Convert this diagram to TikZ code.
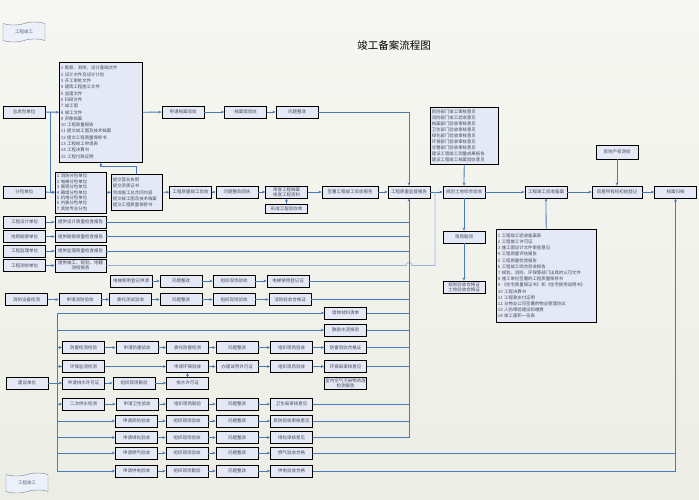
\documentclass[tikz,border=0pt]{standalone}
\usepackage{fontspec}
\newfontfamily\cjk{Noto Sans CJK SC}
\usetikzlibrary{arrows.meta,shapes.symbols,positioning}

\definecolor{bgtop}{RGB}{246,247,242}
\definecolor{bgbot}{RGB}{236,238,229}
\definecolor{boxfill}{RGB}{228,233,245}
\definecolor{lncol}{RGB}{74,122,186}
\definecolor{txtcol}{RGB}{70,72,92}
\definecolor{docfill}{RGB}{236,240,248}
\definecolor{docline}{RGB}{120,130,150}
\definecolor{doctext}{RGB}{90,100,130}

\newcommand\boxfont{\cjk\fontsize{4.5}{5.4}\selectfont}
\newcommand\listfont[1]{\cjk\fontsize{4.4}{#1}\selectfont}

\tikzset{
  box/.style={draw, line width=0.7pt, fill=boxfill, text=txtcol, font=\boxfont,
    minimum width=42pt, minimum height=12pt, inner sep=0.5pt, align=center},
  listbox/.style={draw, line width=0.7pt, fill=boxfill, text=txtcol,
    anchor=north west, inner sep=1.5pt, align=left},
  line/.style={draw=lncol, line width=0.8pt},
  arr/.style={line, -{Stealth[length=3.2pt,width=2.8pt]}},
  docshape/.style={tape, draw=docline, fill=docfill, text=doctext, font=\boxfont,
    minimum width=42pt, minimum height=20pt, inner sep=0pt, tape bend height=3pt}
}

\begin{document}
\begin{tikzpicture}[x=1pt,y=-1pt]
\shade[top color=bgtop, bottom color=bgbot] (0,0) rectangle (699,499);

\node[font=\cjk\fontsize{10.5}{12}\selectfont] (title) at (394,45) {竣工备案流程图};
\node[docshape] (start) at (24,32) {工程竣工};
\node[docshape] (stop) at (27,483) {工程竣工};

% main line
\foreach \name/\x/\y/\txt in {zcb/24/112/总承包单位, sqda/183/112/申请档案验收,
    dagys/245.5/112/档案馆验收, wtzg/297/112/问题整改, fbdw/24.5/192/分包单位,
    zlys/190.5/192/工程质量竣工验收, wtzghz/237/192/问题整改回执,
    jdbg/409/192/工程质量监督报告, ghtd/464/192/规划土地综合验收,
    baj/546/192/工程竣工验收备案, dagd/675.5/192/档案归档, xckc/464/237/现场勘测}
  \node[box] (\name) at (\x,\y) {\txt};
\node[box, minimum width=56pt] (qsbg) at (350,192) {签署工程竣工验收报告};
\node[box, minimum width=50pt] (fwsy) at (617,192) {房屋所有权初始登记};
\node[box, minimum height=14pt] (fdc) at (617,152) {房地产权测绘};
\node[box] (scda) at (286.5,192) {审查工程档案\\核查工程资料};
\node[box, minimum height=9pt] (xcysd) at (286.5,208.5) {形成工程验收单};
\node[box] (hgz) at (464,287) {规划验收合格证\\土地验收合格证};

\node[listbox, font={\listfont{6.3}}, text width=80pt, minimum height=100pt] (zlist) at (59,62)
  {1 勘察、测绘、设计基础文件\\2 设计文件及设计计划\\3 开工审批文件\\4 建筑工程施工文件\\
   5 监理文件\\6 科研文件\\7 竣工图\\8 竣工文件\\9 声像档案\\10 工程质量报告\\
   11 提交竣工图及技术档案\\12 提交工程质量保修书\\13 工程竣工申请表\\14 工程决算书\\
   15 工程付款证明};
\node[listbox, font={\listfont{5.4}}, text width=48pt, minimum height=41pt] (fblist) at (55,171.5)
  {1 消防分包单位\\2 电梯分包单位\\3 景观分包单位\\4 幕墙分包单位\\5 机电分包单位\\
   6 内装分包单位\\7 其他专业分包};
\node[listbox, font={\listfont{6.3}}, text width=48pt, minimum height=36pt] (tjlist) at (111,174)
  {提交营业执照\\提交资质证书\\完成施工总合同内容\\提交竣工图及技术档案\\提交工程质量保修书};
\node[listbox, font={\listfont{5.9}}, text width=65pt, minimum height=57pt] (bmlist) at (430,107)
  {民防部门竣工审核意见\\消防部门竣工验收意见\\档案部门验收审核意见\\卫生部门验收审核意见\\
   绿化部门验收审核意见\\环保部门验收审核意见\\交警部门验收审核意见\\建设工程竣工测量成果报告\\
   建设工程竣工档案验收意见};
\node[listbox, font={\listfont{6.2}}, text width=97pt, minimum height=93pt] (balist) at (496,229)
  {1 工程竣工验收备案表\\2 工程施工许可证\\3 施工图设计文件审查意见\\4 工程质量评估报告\\
   5 工程质量检验报告\\6 工程竣工综合验收报告\\7 规划、消防、环保等部门出具的认可文件\\
   8 施工单位签署的工程质量保修书\\9 《住宅质量保证书》和《住宅使用说明书》\\10 工程决算书\\
   11 工程款支付证明\\12 与物业公司签署的物业管理协议\\13 人防审验建设和缴费\\14 竣工面积一览表};

\draw[arr] (zcb) -- (zlist);
\coordinate (jn) at (50,112);
\draw[arr] (jn) |- (fblist.west);
\foreach \a/\b in {zlist/sqda, sqda/dagys, dagys/wtzg, fbdw/fblist, fblist/tjlist,
    tjlist/zlys, zlys/wtzghz, wtzghz/scda, scda/qsbg, qsbg/jdbg, jdbg/ghtd,
    ghtd/baj, baj/fwsy, fwsy/dagd, xcysd/scda, bmlist/ghtd, fdc/fwsy,
    ghtd/xckc, xckc/hgz, balist/baj}
  \draw[arr] (\a) -- (\b);
\draw[arr] (tjlist.north) -- ++(0,-8) -| (zlist.south);
\draw[arr] (wtzg) -| (jdbg);

% units
\foreach \n/\y/\u/\r in {sj/222/工程设计单位/提供设计质量检查报告,
    kc/236.5/地质勘察单位/提供勘察质量检查报告, jl/251/工程监理单位/提供监理质量检查报告}{
  \node[box] (dw\n) at (24.5,\y) {\u};
  \node[box, minimum width=51pt] (bg\n) at (80.5,\y) {\r};
  \draw[arr] (dw\n) -- (bg\n);
  \draw[line] (bg\n.east) -- (bg\n.east -| jdbg);
}
\node[box] (dwch) at (24.5,265.5) {工程测绘单位};
\node[box, minimum width=51pt, minimum height=13pt] (bgch) at (80.5,265.5) {提供竣工、规划、地籍\\测绘报告};
\draw[arr] (dwch) -- (bgch);
\coordinate (chj) at (435,265.5);
\draw[line, draw=lncol!55] (bgch.east) -- ([xshift=-3pt]bgch.east -| jdbg)
  arc[start angle=180, end angle=0, radius=3pt] -- (chj) -- (chj |- ghtd);

% elevator and fire
\foreach \i/\x/\txt in {1/131/电梯使用登记申请, 2/181/问题整改, 3/234/组织现场验收, 4/288/电梯使用登记证}
  \node[box] (dt\i) at (\x,281) {\txt};
\foreach \i/\x/\txt in {1/26.5/消防设备检测, 2/80/申请消防验收, 3/130.5/委托测试验收,
    4/181/问题整改, 5/234/组织现场验收, 6/290/消防验收合格证}
  \node[box] (xf\i) at (\x,299.5) {\txt};
\foreach \a/\b in {dt1/dt2, dt2/dt3, dt3/dt4, xf1/xf2, xf2/xf3, xf3/xf4, xf4/xf5, xf5/xf6}
  \draw[arr] (\a) -- (\b);

% owner
\node[box] (jsdw) at (27,383) {建设单位};
\node[box] (qtcl) at (345.5,313) {墙体材料清单};
\node[box] (snhy) at (345.5,330) {散装水泥核验};
\foreach \i/\x/\txt in {1/83.5/防雷检测检验, 2/137/申请防雷验收, 3/187.5/委托防雷检测,
    4/237/问题整改, 5/291.5/组织现场验收, 6/345.5/防雷验收合格证}
  \node[box] (fl\i) at (\x,347.5) {\txt};
\foreach \i/\x/\txt in {1/83.5/环保监测检测, 2/187.5/申请环保验收, 3/237/办理试用许可证,
    4/291.5/组织现场验收, 5/345.5/环保局审核意见}
  \node[box] (hb\i) at (\x,366.5) {\txt};
\foreach \i/\x/\txt in {1/83.5/申请排水许可证, 2/134/组织现场勘验, 3/187.5/排水许可证}
  \node[box] (ps\i) at (\x,383) {\txt};
\node[box] (kqjc) at (345.5,383) {室内空气污染物浓度\\检测报告};
\foreach \i/\x/\txt in {1/83.5/二次供水检测, 2/137/申请卫生验收, 3/187.5/组织现场勘验,
    4/237/问题整改, 5/291.5/卫生局审核意见}
  \node[box] (ws\i) at (\x,404) {\txt};
\foreach \n/\y/\a/\b/\d in {mf/421/申请民防验收/组织现场验收/民防验收审核意见,
    lh/437.5/申请绿化验收/组织现场验收/绿化审核意见,
    rq/453/申请燃气验收/组织现场验收/燃气验收合格,
    gd/471/申请供电验收/组织现场勘验/供电验收合格}{
  \node[box] (\n1) at (136.5,\y) {\a};
  \node[box] (\n2) at (187,\y) {\b};
  \node[box] (\n3) at (237,\y) {问题整改};
  \node[box] (\n4) at (291.5,\y) {\d};
  \draw[arr] (\n1) -- (\n2);
  \draw[arr] (\n2) -- (\n3);
  \draw[arr] (\n3) -- (\n4);
}
\foreach \a/\b in {fl1/fl2, fl2/fl3, fl3/fl4, fl4/fl5, fl5/fl6, hb1/hb2, hb2/hb3, hb3/hb4,
    hb4/hb5, jsdw/ps1, ps1/ps2, ps2/ps3, ps3/hb2, ws1/ws2, ws2/ws3, ws3/ws4, ws4/ws5}
  \draw[arr] (\a) -- (\b);

\coordinate (jb) at (57,313);
\draw[arr] (jb) -- (qtcl);
\draw[arr] (jb) |- (gd1);
\foreach \t in {snhy, fl1, hb1, ws1, mf1, lh1, rq1}
  \draw[arr] (jb |- \t) -- (\t);

% to supervision report and archive
\foreach \t in {dt4, xf6, qtcl, snhy, fl6, hb5, ws5, mf4}
  \draw[line] (\t.east) -- (\t.east -| jdbg);
\draw[arr] (lh4.east) -| (jdbg.south);
\draw[line] (rq4.east) -- (rq4.east -| dagd);
\draw[arr] (gd4.east) -| (dagd.south);
\end{tikzpicture}
\end{document}
